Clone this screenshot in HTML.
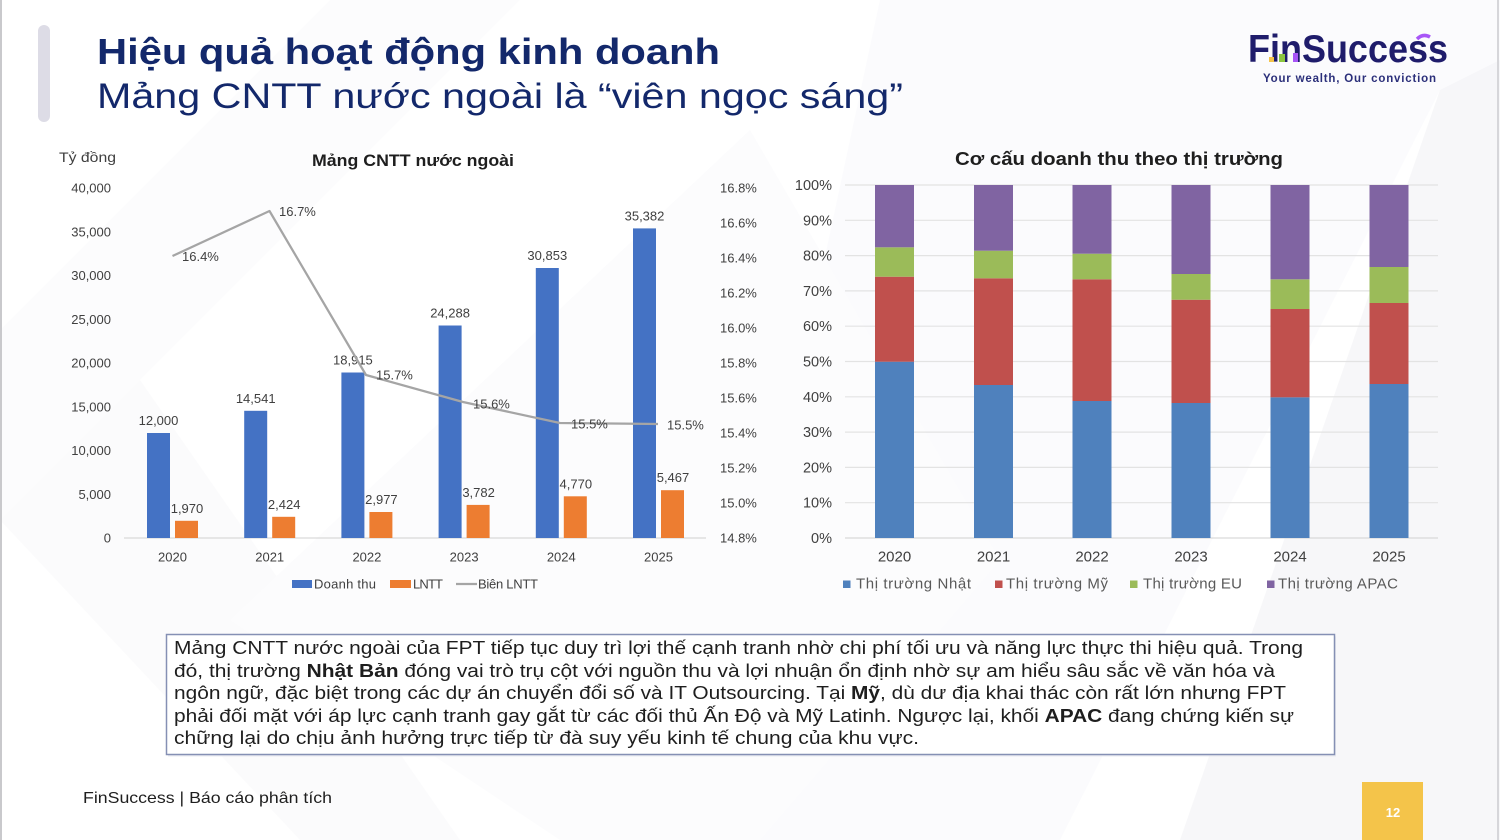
<!DOCTYPE html>
<html lang="vi">
<head>
<meta charset="utf-8">
<style>
  html,body{margin:0;padding:0;background:#fff;}
  body{width:1500px;height:840px;overflow:hidden;}
  svg{display:block;font-family:"Liberation Sans","Noto Sans CJK SC",sans-serif;}
</style>
</head>
<body>
<svg width="1500" height="840" viewBox="0 0 1500 840" xmlns="http://www.w3.org/2000/svg">
  <!-- background -->
  <rect x="0" y="0" width="1500" height="840" fill="#ffffff"/>
  <polygon points="880,0 1500,0 1500,90 1440,90 1060,840 700,840" fill="#fafafc" opacity="0.7"/>
  <polygon points="1440,90 1500,60 1500,840 1180,840" fill="#f5f5f8" opacity="0.8"/>
  <polygon points="0,330 330,0 520,0 0,520" fill="#fbfbfc" opacity="0.8"/>
  <polygon points="0,520 140,380 460,840 300,840" fill="#f8f8fa" opacity="0.6"/>
  <polygon points="230,620 750,130 1000,560 760,840 560,840" fill="#fcfcfd" opacity="0.9"/>
  <line x1="1" y1="0" x2="1" y2="840" stroke="#c9c9cc" stroke-width="2"/>
  <line x1="1498" y1="0" x2="1498" y2="840" stroke="#d6d6da" stroke-width="2"/>

  <!-- left accent bar -->
  <rect x="38" y="25" width="12" height="97" rx="6" fill="#dddce6"/>

  <!-- titles -->
  <text x="97" y="64" font-size="36" font-weight="bold" fill="#13286b" textLength="623" lengthAdjust="spacingAndGlyphs">Hiệu quả hoạt động kinh doanh</text>
  <text x="97" y="108" font-size="35" fill="#13286b" textLength="806" lengthAdjust="spacingAndGlyphs">Mảng CNTT nước ngoài là “viên ngọc sáng”</text>

  <!-- logo -->
  <text x="1248" y="62" font-size="39" font-weight="bold" fill="#1f1c6b" textLength="200" lengthAdjust="spacingAndGlyphs">FinSuccess</text>
  <rect x="1269" y="57" width="5" height="5" fill="#f4c44a"/>
  <rect x="1279" y="54" width="6" height="8" fill="#8cc63f"/>
  <rect x="1293" y="53" width="5" height="9" fill="#a855f7"/>
  <path d="M1417,39 Q1423,33 1430,37" stroke="#a855f7" stroke-width="3.5" fill="none"/>
  <text x="1263" y="82" font-size="11.5" font-weight="bold" fill="#2b2f7a" textLength="173" lengthAdjust="spacing">Your wealth, Our conviction</text>

  <!-- ================= CHART 1 ================= -->
  <text x="59" y="162" font-size="14" fill="#404040" textLength="57" lengthAdjust="spacingAndGlyphs">Tỷ đồng</text>
  <text x="413" y="166" font-size="17" font-weight="bold" fill="#1e1e1e" text-anchor="middle" textLength="202" lengthAdjust="spacingAndGlyphs">Mảng CNTT nước ngoài</text>

  <g font-size="13" fill="#404040" text-anchor="end">
    <text x="111" y="542.5">0</text>
    <text x="111" y="498.75">5,000</text>
    <text x="111" y="455">10,000</text>
    <text x="111" y="411.25">15,000</text>
    <text x="111" y="367.5">20,000</text>
    <text x="111" y="323.75">25,000</text>
    <text x="111" y="280">30,000</text>
    <text x="111" y="236.25">35,000</text>
    <text x="111" y="192.5">40,000</text>
  </g>
  <g font-size="13" fill="#404040">
    <text x="720" y="542.5">14.8%</text>
    <text x="720" y="507.5">15.0%</text>
    <text x="720" y="472.5">15.2%</text>
    <text x="720" y="437.5">15.4%</text>
    <text x="720" y="402.5">15.6%</text>
    <text x="720" y="367.5">15.8%</text>
    <text x="720" y="332.5">16.0%</text>
    <text x="720" y="297.5">16.2%</text>
    <text x="720" y="262.5">16.4%</text>
    <text x="720" y="227.5">16.6%</text>
    <text x="720" y="192.5">16.8%</text>
  </g>

  <line x1="124" y1="538" x2="706" y2="538" stroke="#d9d9d9" stroke-width="1.2"/>

  <!-- blue bars -->
  <g fill="#4472c4">
    <rect x="147" y="433" width="23" height="105"/>
    <rect x="244.2" y="410.8" width="23" height="127.2"/>
    <rect x="341.4" y="372.5" width="23" height="165.5"/>
    <rect x="438.6" y="325.5" width="23" height="212.5"/>
    <rect x="535.8" y="268" width="23" height="270"/>
    <rect x="633" y="228.4" width="23" height="309.6"/>
  </g>
  <!-- orange bars -->
  <g fill="#ed7d31">
    <rect x="175" y="520.8" width="23" height="17.2"/>
    <rect x="272.2" y="516.8" width="23" height="21.2"/>
    <rect x="369.4" y="512" width="23" height="26"/>
    <rect x="466.6" y="504.9" width="23" height="33.1"/>
    <rect x="563.8" y="496.3" width="23" height="41.7"/>
    <rect x="661" y="490.2" width="23" height="47.8"/>
  </g>

  <!-- data labels -->
  <g font-size="13" fill="#404040" text-anchor="middle">
    <text x="158.5" y="425">12,000</text>
    <text x="255.7" y="402.8">14,541</text>
    <text x="352.9" y="364.5">18,915</text>
    <text x="450.1" y="317.5">24,288</text>
    <text x="547.3" y="260">30,853</text>
    <text x="644.5" y="220.4">35,382</text>
    <text x="187" y="512.8">1,970</text>
    <text x="284.2" y="508.8">2,424</text>
    <text x="381.4" y="504">2,977</text>
    <text x="478.6" y="496.9">3,782</text>
    <text x="575.8" y="488.3">4,770</text>
    <text x="673" y="482.2">5,467</text>
  </g>

  <!-- margin line -->
  <polyline points="172.5,256 269.5,211 366,375 463,402 560,423 658,424" fill="none" stroke="#a5a5a5" stroke-width="2.25" stroke-linejoin="round"/>
  <g font-size="13" fill="#404040">
    <text x="182" y="261">16.4%</text>
    <text x="279" y="216">16.7%</text>
    <text x="376" y="379.5">15.7%</text>
    <text x="473" y="408.5">15.6%</text>
    <text x="571" y="428.5">15.5%</text>
    <text x="667" y="429.5">15.5%</text>
  </g>

  <!-- year labels -->
  <g font-size="13" fill="#404040" text-anchor="middle">
    <text x="172.5" y="561.5">2020</text>
    <text x="269.7" y="561.5">2021</text>
    <text x="366.9" y="561.5">2022</text>
    <text x="464.1" y="561.5">2023</text>
    <text x="561.3" y="561.5">2024</text>
    <text x="658.5" y="561.5">2025</text>
  </g>

  <!-- legend 1 -->
  <rect x="292" y="580" width="20" height="8" fill="#4472c4"/>
  <text x="314" y="588.5" font-size="13" fill="#404040" textLength="62">Doanh thu</text>
  <rect x="390" y="580" width="21" height="8" fill="#ed7d31"/>
  <text x="413" y="588.5" font-size="13" fill="#404040" textLength="30">LNTT</text>
  <line x1="456" y1="584" x2="477" y2="584" stroke="#a5a5a5" stroke-width="2.25"/>
  <text x="478" y="588.5" font-size="13" fill="#404040" textLength="60">Biên LNTT</text>

  <!-- ================= CHART 2 ================= -->
  <text x="955" y="165" font-size="18" font-weight="bold" fill="#1e1e1e" textLength="328" lengthAdjust="spacingAndGlyphs">Cơ cấu doanh thu theo thị trường</text>

  <g stroke="#e3e3e3" stroke-width="1.2">
    <line x1="845" y1="185" x2="1438" y2="185"/>
    <line x1="845" y1="220.3" x2="1438" y2="220.3"/>
    <line x1="845" y1="255.6" x2="1438" y2="255.6"/>
    <line x1="845" y1="290.9" x2="1438" y2="290.9"/>
    <line x1="845" y1="326.2" x2="1438" y2="326.2"/>
    <line x1="845" y1="361.5" x2="1438" y2="361.5"/>
    <line x1="845" y1="396.8" x2="1438" y2="396.8"/>
    <line x1="845" y1="432.1" x2="1438" y2="432.1"/>
    <line x1="845" y1="467.4" x2="1438" y2="467.4"/>
    <line x1="845" y1="502.7" x2="1438" y2="502.7"/>
    <line x1="845" y1="538" x2="1438" y2="538" stroke="#d9d9d9"/>
  </g>
  <g font-size="14.5" fill="#404040" text-anchor="end">
    <text x="832" y="543">0%</text>
    <text x="832" y="507.7">10%</text>
    <text x="832" y="472.4">20%</text>
    <text x="832" y="437.1">30%</text>
    <text x="832" y="401.8">40%</text>
    <text x="832" y="366.5">50%</text>
    <text x="832" y="331.2">60%</text>
    <text x="832" y="295.9">70%</text>
    <text x="832" y="260.6">80%</text>
    <text x="832" y="225.3">90%</text>
    <text x="832" y="190">100%</text>
  </g>

  <!-- stacked bars -->
  <rect x="875" y="361.7" width="39" height="176.3" fill="#4f81bd"/>
  <rect x="875" y="276.7" width="39" height="85" fill="#c0504d"/>
  <rect x="875" y="247.3" width="39" height="29.4" fill="#9bbb59"/>
  <rect x="875" y="185" width="39" height="62.3" fill="#8064a2"/>
  <rect x="974" y="385" width="39" height="153" fill="#4f81bd"/>
  <rect x="974" y="278.3" width="39" height="106.7" fill="#c0504d"/>
  <rect x="974" y="250.7" width="39" height="27.6" fill="#9bbb59"/>
  <rect x="974" y="185" width="39" height="65.7" fill="#8064a2"/>
  <rect x="1072.5" y="401" width="39" height="137" fill="#4f81bd"/>
  <rect x="1072.5" y="279.3" width="39" height="121.7" fill="#c0504d"/>
  <rect x="1072.5" y="253.7" width="39" height="25.6" fill="#9bbb59"/>
  <rect x="1072.5" y="185" width="39" height="68.7" fill="#8064a2"/>
  <rect x="1171.5" y="403" width="39" height="135" fill="#4f81bd"/>
  <rect x="1171.5" y="299.7" width="39" height="103.3" fill="#c0504d"/>
  <rect x="1171.5" y="274" width="39" height="25.7" fill="#9bbb59"/>
  <rect x="1171.5" y="185" width="39" height="89" fill="#8064a2"/>
  <rect x="1270.5" y="397.3" width="39" height="140.7" fill="#4f81bd"/>
  <rect x="1270.5" y="309" width="39" height="88.3" fill="#c0504d"/>
  <rect x="1270.5" y="279.3" width="39" height="29.7" fill="#9bbb59"/>
  <rect x="1270.5" y="185" width="39" height="94.3" fill="#8064a2"/>
  <rect x="1369.5" y="384" width="39" height="154" fill="#4f81bd"/>
  <rect x="1369.5" y="303" width="39" height="81" fill="#c0504d"/>
  <rect x="1369.5" y="267" width="39" height="36" fill="#9bbb59"/>
  <rect x="1369.5" y="185" width="39" height="82" fill="#8064a2"/>

  <g font-size="15" fill="#404040" text-anchor="middle">
    <text x="894.5" y="561.5">2020</text>
    <text x="993.5" y="561.5">2021</text>
    <text x="1092" y="561.5">2022</text>
    <text x="1191" y="561.5">2023</text>
    <text x="1290" y="561.5">2024</text>
    <text x="1389" y="561.5">2025</text>
  </g>

  <!-- legend 2 -->
  <g font-size="15" fill="#595959">
    <rect x="843" y="580.5" width="7.5" height="7.5" fill="#4f81bd"/>
    <text x="856" y="588.5" textLength="115">Thị trường Nhật</text>
    <rect x="995" y="580.5" width="7.5" height="7.5" fill="#c0504d"/>
    <text x="1006" y="588.5" textLength="102">Thị trường Mỹ</text>
    <rect x="1130" y="580.5" width="7.5" height="7.5" fill="#9bbb59"/>
    <text x="1143" y="588.5" textLength="99">Thị trường EU</text>
    <rect x="1267" y="580.5" width="7.5" height="7.5" fill="#8064a2"/>
    <text x="1278" y="588.5" textLength="120">Thị trường APAC</text>
  </g>

  <!-- ================= TEXT BOX ================= -->
  <rect x="168" y="636.5" width="1168" height="120" fill="#e4e6ee" opacity="0.8"/>
  <rect x="166.5" y="634.5" width="1168" height="120" fill="#ffffff" stroke="#8590b4" stroke-width="1.5"/>
  <g font-size="18.5" fill="#1e1e1e">
    <text x="174" y="654" textLength="1129" lengthAdjust="spacingAndGlyphs">Mảng CNTT nước ngoài của FPT tiếp tục duy trì lợi thế cạnh tranh nhờ chi phí tối ưu và năng lực thực thi hiệu quả. Trong</text>
    <text x="174" y="677" textLength="1101" lengthAdjust="spacingAndGlyphs">đó, thị trường <tspan font-weight="bold">Nhật Bản</tspan> đóng vai trò trụ cột với nguồn thu và lợi nhuận ổn định nhờ sự am hiểu sâu sắc về văn hóa và</text>
    <text x="174" y="699" textLength="1112" lengthAdjust="spacingAndGlyphs">ngôn ngữ, đặc biệt trong các dự án chuyển đổi số và IT Outsourcing. Tại <tspan font-weight="bold">Mỹ</tspan>, dù dư địa khai thác còn rất lớn nhưng FPT</text>
    <text x="174" y="722" textLength="1120" lengthAdjust="spacingAndGlyphs">phải đối mặt với áp lực cạnh tranh gay gắt từ các đối thủ Ấn Độ và Mỹ Latinh. Ngược lại, khối <tspan font-weight="bold">APAC</tspan> đang chứng kiến sự</text>
    <text x="174" y="744" textLength="745" lengthAdjust="spacingAndGlyphs">chững lại do chịu ảnh hưởng trực tiếp từ đà suy yếu kinh tế chung của khu vực.</text>
  </g>

  <!-- footer -->
  <text x="83" y="803" font-size="16" fill="#1e1e1e" textLength="249" lengthAdjust="spacingAndGlyphs">FinSuccess | Báo cáo phân tích</text>
  <rect x="1362" y="782" width="61" height="58" fill="#f4c44a"/>
  <text x="1393" y="817" font-size="13" font-weight="bold" fill="#ffffff" text-anchor="middle">12</text>
</svg>
</body>
</html>
